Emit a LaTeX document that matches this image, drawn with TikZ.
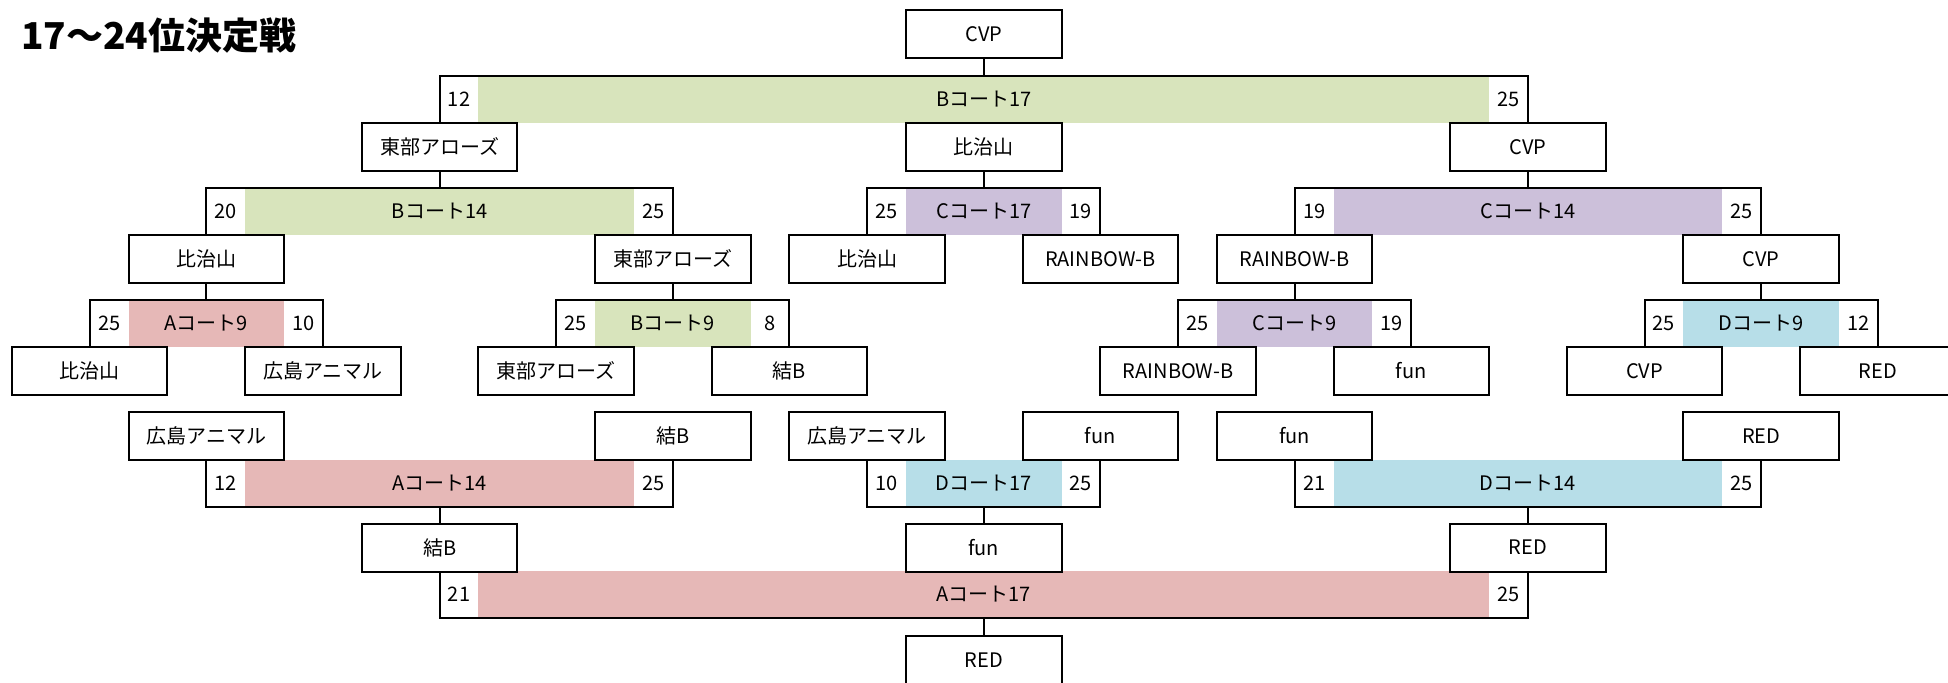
\documentclass[tikz,border=0pt]{standalone}
\usepackage{fontspec}
\setmainfont{Noto Sans CJK JP}
\usepackage{tikz}
\usetikzlibrary{calc}
\definecolor{courtA}{HTML}{E6B8B7}
\definecolor{courtB}{HTML}{D8E4BC}
\definecolor{courtC}{HTML}{CCC0DA}
\definecolor{courtD}{HTML}{B7DEE8}
\tikzset{
  cols/.style={minimum width=#1*19.435pt},
  team/.style={draw, line width=1pt, cols=4, minimum height=24pt, inner sep=0pt, font=\fontsize{10}{12}\selectfont},
  court/.style={fill=#1, minimum height=23.5pt, inner sep=0pt, font=\fontsize{10}{12}\selectfont},
  score/.style={inner sep=0pt, font=\fontsize{10}{12}\selectfont},
  brk/.style={line width=1pt},
  stem/.style={line width=0.95pt}
}

\begin{document}
\begin{tikzpicture}[x=19.435pt, y=-0.5pt]
  \useasboundingbox (-0.3087,0) rectangle (49.807,682);
  \node[anchor=base west, inner sep=0pt, font=\fontsize{18.5}{20}\selectfont\bfseries] (title) at (0.23,49) {17〜24位決定戦};

  % courts (winners side)
  \node[court=courtB, cols=26] (b17) at (25,99.5) {Bコート17};
  \node[court=courtB, cols=10] (b14) at (11,211.5) {Bコート14};
  \node[court=courtC, cols=4] (c17) at (25,211.5) {Cコート17};
  \node[court=courtC, cols=10] (c14) at (39,211.5) {Cコート14};
  \node[court=courtA, cols=4] (a9) at (5,323.5) {Aコート9};
  \node[court=courtB, cols=4] (b9) at (17,323.5) {Bコート9};
  \node[court=courtC, cols=4] (c9) at (33,323.5) {Cコート9};
  \node[court=courtD, cols=4] (d9) at (45,323.5) {Dコート9};
  % courts (losers side)
  \node[court=courtA, cols=10] (a14) at (11,483.5) {Aコート14};
  \node[court=courtD, cols=4] (d17) at (25,483.5) {Dコート17};
  \node[court=courtD, cols=10] (d14) at (39,483.5) {Dコート14};
  \node[court=courtA, cols=26] (a17) at (25,594.5) {Aコート17};

  % scores
  \node[score] (sb17l) at (11.5,99.5) {12};  \node[score] (sb17r) at (38.5,99.5) {25};
  \node[score] (sb14l) at (5.5,211.5) {20};  \node[score] (sb14r) at (16.5,211.5) {25};
  \node[score] (sc17l) at (22.5,211.5) {25}; \node[score] (sc17r) at (27.5,211.5) {19};
  \node[score] (sc14l) at (33.5,211.5) {19}; \node[score] (sc14r) at (44.5,211.5) {25};
  \node[score] (sa9l) at (2.5,323.5) {25};   \node[score] (sa9r) at (7.5,323.5) {10};
  \node[score] (sb9l) at (14.5,323.5) {25};  \node[score] (sb9r) at (19.5,323.5) {8};
  \node[score] (sc9l) at (30.5,323.5) {25};  \node[score] (sc9r) at (35.5,323.5) {19};
  \node[score] (sd9l) at (42.5,323.5) {25};  \node[score] (sd9r) at (47.5,323.5) {12};
  \node[score] (sa14l) at (5.5,483.5) {12};  \node[score] (sa14r) at (16.5,483.5) {25};
  \node[score] (sd17l) at (22.5,483.5) {10}; \node[score] (sd17r) at (27.5,483.5) {25};
  \node[score] (sd14l) at (33.5,483.5) {21}; \node[score] (sd14r) at (44.5,483.5) {25};
  \node[score] (sa17l) at (11.5,594.5) {21}; \node[score] (sa17r) at (38.5,594.5) {25};

  % teams
  \node[team] (cvp0) at (25,34) {CVP};
  \node[team] (aro2) at (11,147) {東部アローズ};
  \node[team] (hij2) at (25,147) {比治山};
  \node[team] (cvp2) at (39,147) {CVP};
  \node[team] (hij4a) at (5,259) {比治山};
  \node[team] (aro4) at (17,259) {東部アローズ};
  \node[team] (hij4b) at (22,259) {比治山};
  \node[team] (rb4a) at (28,259) {RAINBOW-B};
  \node[team] (rb4b) at (33,259) {RAINBOW-B};
  \node[team] (cvp4) at (45,259) {CVP};
  \node[team] (hij6) at (2,371) {比治山};
  \node[team] (hir6) at (8,371) {広島アニマル};
  \node[team] (aro6) at (14,371) {東部アローズ};
  \node[team] (yui6) at (20,371) {結B};
  \node[team] (rb6) at (30,371) {RAINBOW-B};
  \node[team] (fun6) at (36,371) {fun};
  \node[team] (cvp6) at (42,371) {CVP};
  \node[team] (red6) at (48,371) {RED};
  \node[team] (hir7a) at (5,436) {広島アニマル};
  \node[team] (yui7) at (17,436) {結B};
  \node[team] (hir7b) at (22,436) {広島アニマル};
  \node[team] (fun7a) at (28,436) {fun};
  \node[team] (fun7b) at (33,436) {fun};
  \node[team] (red7) at (45,436) {RED};
  \node[team] (yui9) at (11,547.5) {結B};
  \node[team] (fun9) at (25,547.5) {fun};
  \node[team] (red9) at (39,547.5) {RED};
  \node[team] (red11) at (25,660) {RED};

  % brackets, winners side
  \draw[brk] (aro2.north) |- (b17.north) -| (cvp2.north);
  \draw[brk] (hij4a.north) |- (b14.north) -| (aro4.north);
  \draw[brk] (hij4b.north) |- (c17.north) -| (rb4a.north);
  \draw[brk] (rb4b.north) |- (c14.north) -| (cvp4.north);
  \draw[brk] (hij6.north) |- (a9.north) -| (hir6.north);
  \draw[brk] (aro6.north) |- (b9.north) -| (yui6.north);
  \draw[brk] (rb6.north) |- (c9.north) -| (fun6.north);
  \draw[brk] (cvp6.north) |- (d9.north) -| (red6.north);
  \draw[stem] (cvp0) -- (b17.north);
  \draw[stem] (aro2) -- (b14.north);
  \draw[stem] (hij2) -- (c17.north);
  \draw[stem] (cvp2) -- (c14.north);
  \draw[stem] (hij4a) -- (a9.north);
  \draw[stem] (aro4) -- (b9.north);
  \draw[stem] (rb4b) -- (c9.north);
  \draw[stem] (cvp4) -- (d9.north);

  % brackets, losers side
  \draw[brk] (hir7a.south) |- (a14.south) -| (yui7.south);
  \draw[brk] (hir7b.south) |- (d17.south) -| (fun7a.south);
  \draw[brk] (fun7b.south) |- (d14.south) -| (red7.south);
  \draw[brk] (yui9.south) |- (a17.south) -| (red9.south);
  \draw[stem] (a14.south) -- (yui9);
  \draw[stem] (d17.south) -- (fun9);
  \draw[stem] (d14.south) -- (red9);
  \draw[stem] (a17.south) -- (red11);
\end{tikzpicture}
\end{document}
